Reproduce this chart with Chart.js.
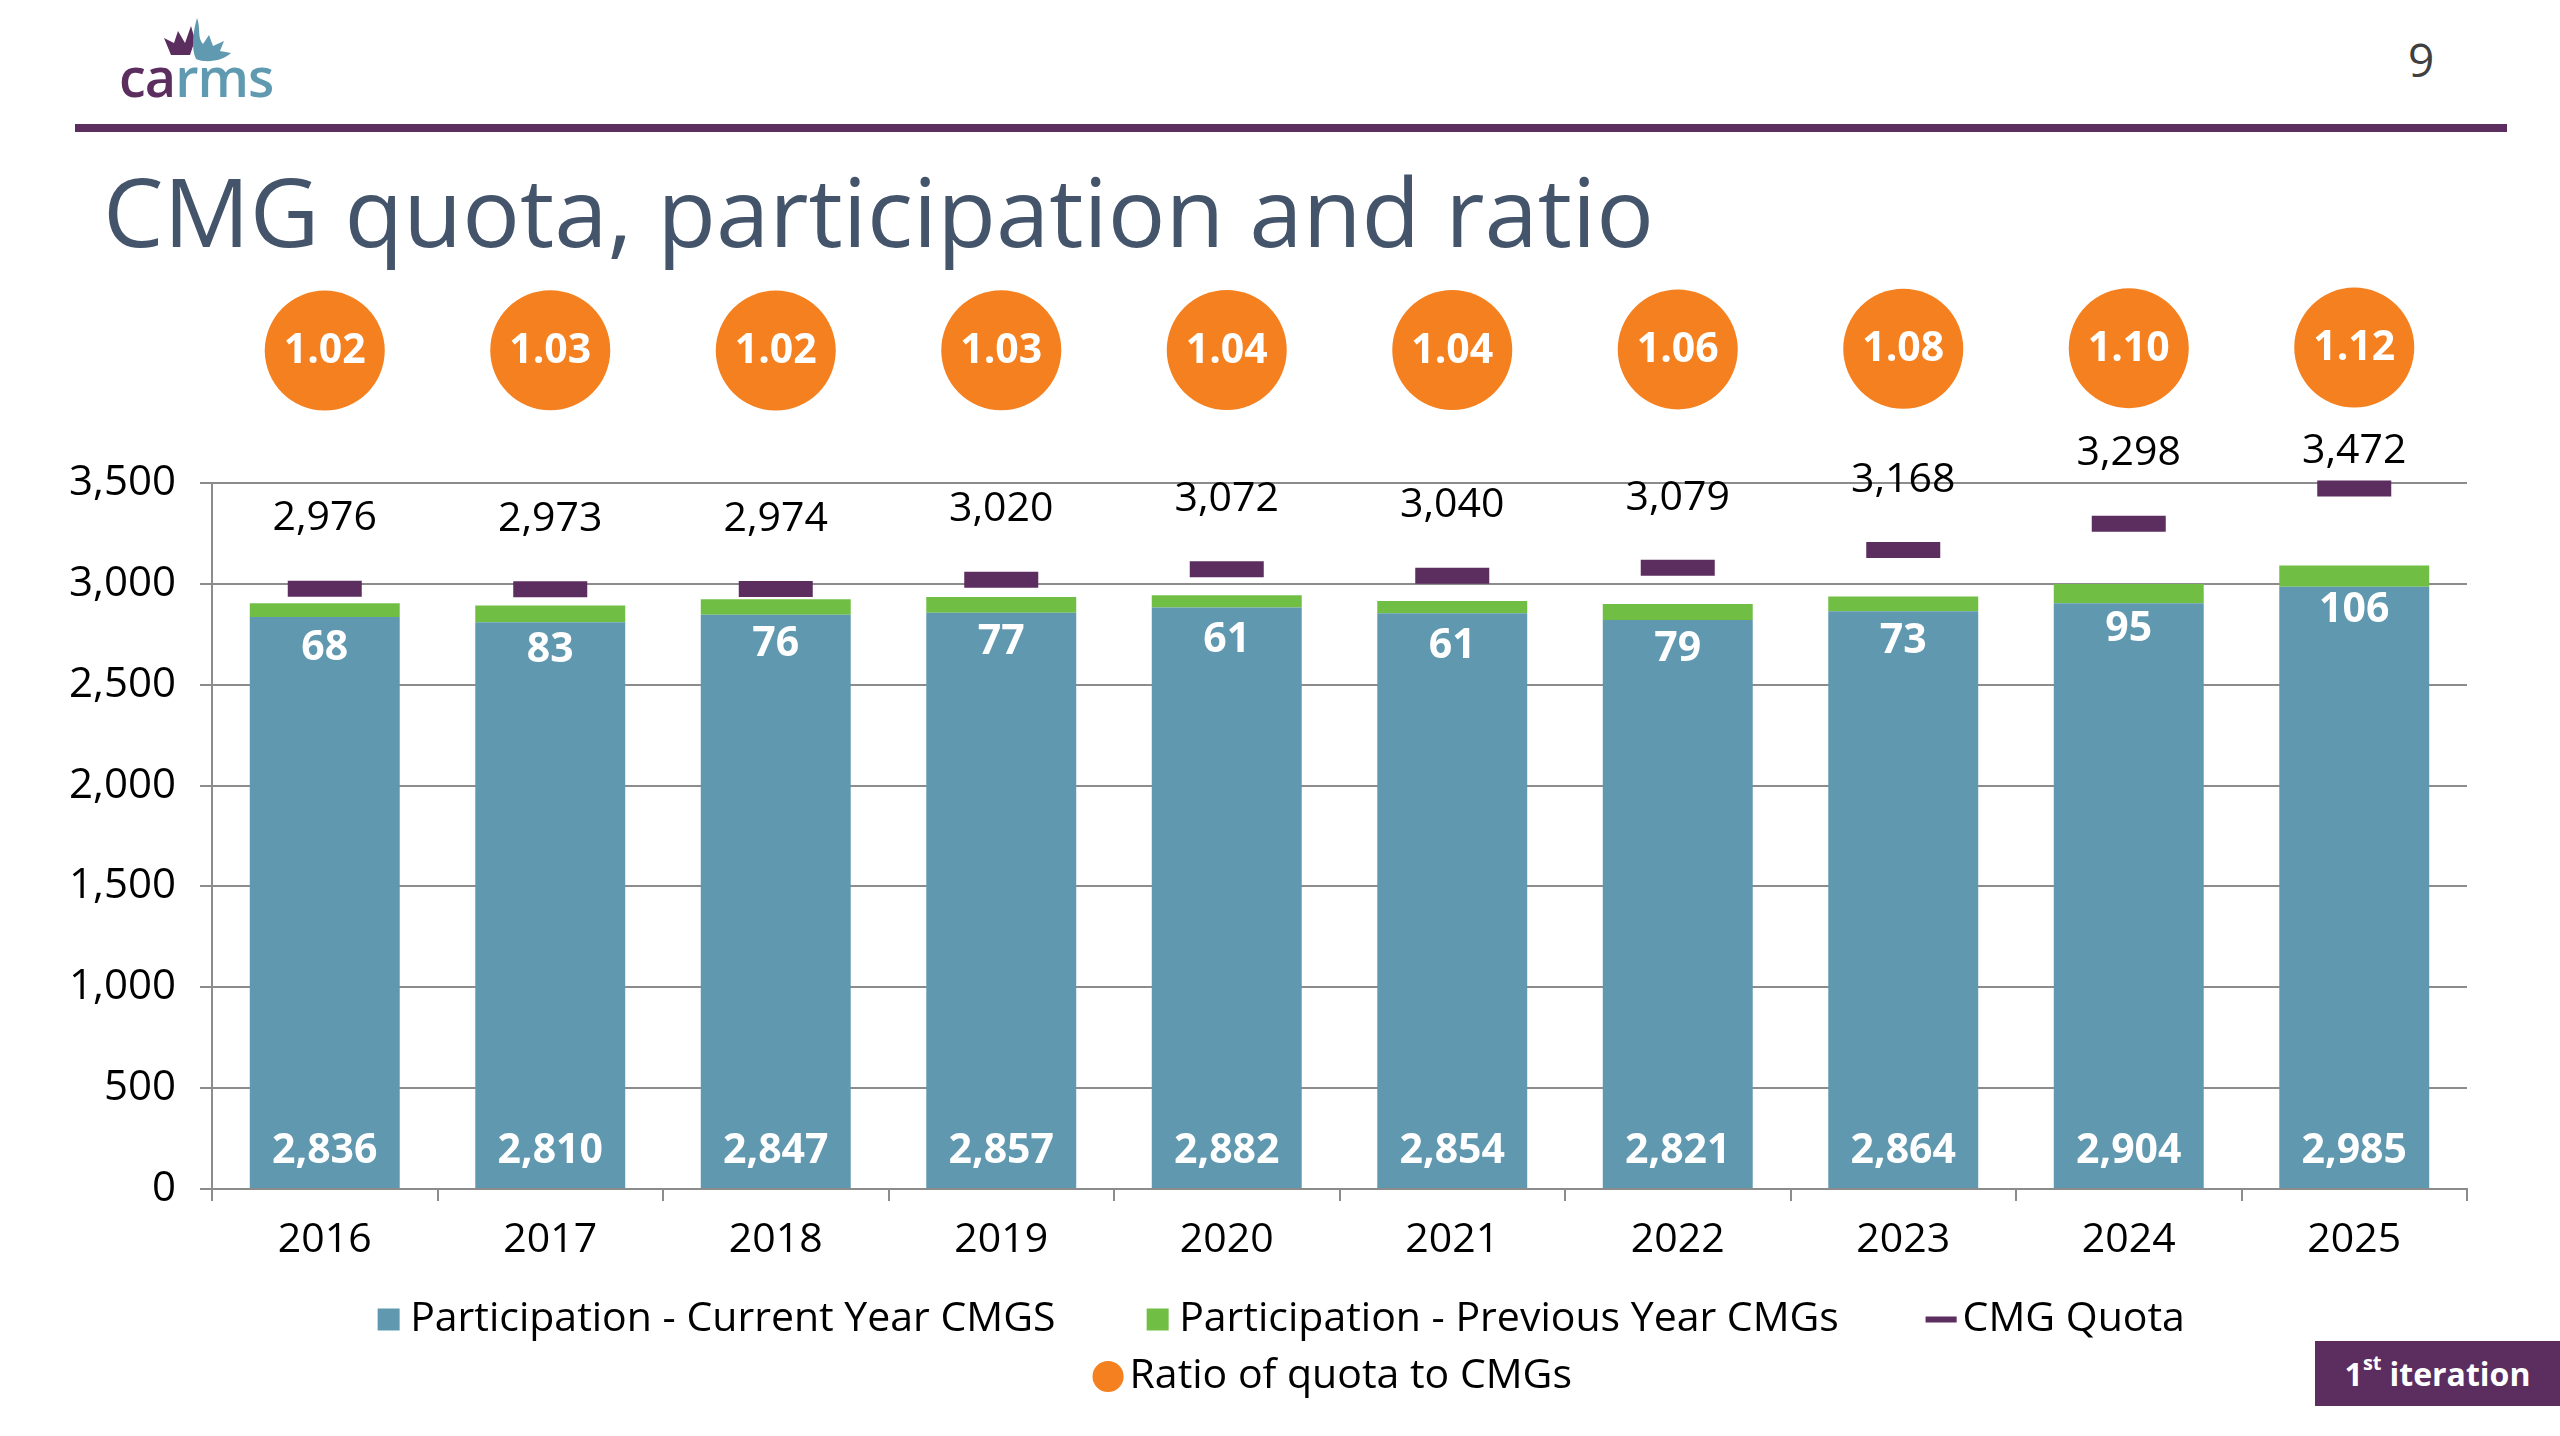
<!DOCTYPE html>
<html>
<head>
<meta charset="utf-8">
<title>CMG quota, participation and ratio</title>
<script src="https://cdn.jsdelivr.net/npm/chart.js@4.4.1/dist/chart.umd.min.js"></script>
<style>
  html, body { margin: 0; padding: 0; background: #ffffff; }
  body { width: 2560px; height: 1436px; position: relative; overflow: hidden; font-family: "Open Sans", sans-serif; }
  #chart { position: absolute; left: 0; top: 0; }
  .logo-svg { position: absolute; left: 0; top: 0; }
  .logo-text { position: absolute; left: 119px; top: 49px; font-size: 54px; line-height: 1; font-weight: 600; letter-spacing: -1px; }
  .logo-text .ca { color: #5c2d5f; }
  .logo-text .rms { color: #5f9ab0; }
  .pagenum { position: absolute; left: 2408px; top: 36px; font-size: 46px; line-height: 1; color: #404040; }
  .hdr-line { position: absolute; left: 75px; top: 124px; width: 2432px; height: 8px; background: #5c2d5f; }
  .title { position: absolute; left: 103px; top: 162px; font-size: 96px; line-height: 1; color: #44546a; white-space: nowrap; }
  .badge { position: absolute; left: 2315px; top: 1341px; width: 245px; height: 65px; background: #5c2d5f; color: #ffffff;
           font-weight: 700; font-size: 32px; display: flex; align-items: center; justify-content: center; }
  .badge sup { font-size: 20px; position: relative; top: -4px; margin-right: 8px; }
</style>
</head>
<body>
<svg class="logo-svg" width="300" height="120" viewBox="0 0 300 120">
  <path d="M164,38 L174,43 L178,31 L185,43 L191,26 L195,40 L190,55 L171,55 Z" fill="#5c2d5f"/>
  <path d="M197,18 C201,28 197,38 203,44 L209,35 L213,46 L224,41 L220,51 L231,53 C224,60 207,64 196,59 C191,48 193,32 197,18 Z" fill="#5f9ab0"/>
</svg>
<div class="logo-text"><span class="ca">ca</span><span class="rms">rms</span></div>
<div class="pagenum">9</div>
<div class="hdr-line"></div>
<div class="title">CMG quota, participation and ratio</div>
<canvas id="chart" width="2560" height="1436"></canvas>
<div class="badge"><span>1<sup>st</sup></span><span>iteration</span></div>

<script>
// ---------------- DATA ----------------
const years = ['2016', '2017', '2018', '2019', '2020', '2021', '2022', '2023', '2024', '2025'];
const currentYearCMGs = [2836, 2810, 2847, 2857, 2882, 2854, 2821, 2864, 2904, 2985];
const previousYearCMGs = [68, 83, 76, 77, 61, 61, 79, 73, 95, 106];
const cmgQuota = [2976, 2973, 2974, 3020, 3072, 3040, 3079, 3168, 3298, 3472];
const quotaRatio = [1.02, 1.03, 1.02, 1.03, 1.04, 1.04, 1.06, 1.08, 1.10, 1.12];
const yTickValues = [0, 500, 1000, 1500, 2000, 2500, 3000, 3500];

const seriesNames = [
  'Participation - Current Year CMGS',
  'Participation - Previous Year CMGs',
  'CMG Quota',
  'Ratio of quota to CMGs'
];

// ---------------- STYLE ----------------
const FONT = '"Open Sans", sans-serif';
const BLUE = '#6098b0';
const GREEN = '#70bf44';
const PURPLE = '#5c2d5f';
const ORANGE = '#f4801f';
const GRID = '#8c8c8c';

Chart.defaults.font.family = FONT;
Chart.defaults.color = '#000000';

const fmt = v => v.toLocaleString('en-US');

const labelPlugin = {
  id: 'valueLabels',
  afterDatasetsDraw(chart) {
    const ctx = chart.ctx;
    const y = chart.scales.y;
    const area = chart.chartArea;
    ctx.save();
    // vertical axis line, only over the tick range
    ctx.strokeStyle = GRID;
    ctx.lineWidth = 2;
    ctx.beginPath();
    ctx.moveTo(area.left, y.getPixelForValue(0));
    ctx.lineTo(area.left, y.getPixelForValue(Math.max(...yTickValues)));
    ctx.stroke();

    ctx.textAlign = 'center';
    ctx.textBaseline = 'middle';
    const mCur = chart.getDatasetMeta(0);
    const mPrev = chart.getDatasetMeta(1);
    const mQuota = chart.getDatasetMeta(2);
    const mRatio = chart.getDatasetMeta(3);

    ctx.fillStyle = '#ffffff';
    ctx.font = '700 41px ' + FONT;
    mCur.data.forEach((bar, i) => ctx.fillText(fmt(currentYearCMGs[i]), bar.x, bar.base - 37));
    mPrev.data.forEach((bar, i) => ctx.fillText(fmt(previousYearCMGs[i]), bar.x, bar.y + 45));
    mRatio.data.forEach((pt, i) => ctx.fillText(quotaRatio[i].toFixed(2), pt.x, pt.y + 1));

    ctx.fillStyle = '#000000';
    ctx.font = '400 41px ' + FONT;
    mQuota.data.forEach((pt, i) => {
      const circle = mRatio.data[i];
      const ly = Math.max(pt.y - 70, circle.y + 104);
      ctx.fillText(fmt(cmgQuota[i]), pt.x, ly);
    });
    ctx.restore();
  }
};

// extra blank space after some legend entries so the legend spreads like the original
const legendGap = '        ';
const legendTail = '          ';

new Chart(document.getElementById('chart'), {
  data: {
    labels: years,
    datasets: [
      {
        type: 'bar', label: seriesNames[0], data: currentYearCMGs, stack: 'part',
        backgroundColor: BLUE, borderWidth: 0, pointStyle: 'rect',
        barPercentage: 0.665, categoryPercentage: 1
      },
      {
        type: 'bar', label: seriesNames[1], data: previousYearCMGs, stack: 'part',
        backgroundColor: GREEN, borderWidth: 0, pointStyle: 'rect',
        barPercentage: 0.665, categoryPercentage: 1
      },
      {
        type: 'line', label: seriesNames[2], data: cmgQuota, stack: 'quota',
        showLine: false, pointStyle: 'line', pointRadius: 37, pointHoverRadius: 37,
        pointBorderWidth: 16, pointBorderColor: PURPLE, pointBackgroundColor: PURPLE,
        borderColor: PURPLE, backgroundColor: PURPLE
      },
      {
        type: 'line', label: seriesNames[3], data: quotaRatio, yAxisID: 'yR', stack: 'ratio',
        showLine: false, pointStyle: 'circle', pointRadius: 60, pointHoverRadius: 60,
        pointBorderWidth: 0, pointBackgroundColor: ORANGE, borderColor: ORANGE,
        backgroundColor: ORANGE, clip: false
      }
    ]
  },
  options: {
    responsive: false,
    animation: false,
    events: [],
    devicePixelRatio: 1,
    layout: { padding: { top: 280, right: 93, bottom: 29, left: 0 } },
    scales: {
      x: {
        stacked: true,
        offset: true,
        grid: { offset: true, drawOnChartArea: false, drawTicks: true, tickLength: 12, color: GRID, lineWidth: 2 },
        border: { display: true, color: GRID, width: 2 },
        ticks: { font: { size: 41 }, color: '#000000', padding: 15 },
        afterFit: s => { s.height = 94; }
      },
      y: {
        stacked: true,
        min: 0,
        max: 4506,
        afterBuildTicks: s => { s.ticks = yTickValues.map(v => ({ value: v })); },
        grid: { color: GRID, lineWidth: 2, tickLength: 12, drawTicks: true },
        border: { display: false },
        ticks: { font: { size: 42 }, color: '#000000', padding: 24, callback: v => fmt(v) },
        afterFit: s => { s.width = 212; }
      },
      yR: {
        display: false,
        min: -26.65,
        max: 3.35
      }
    },
    plugins: {
      tooltip: { enabled: false },
      legend: {
        position: 'bottom',
        fullSize: false,
        align: 'center',
        labels: {
          usePointStyle: true,
          boxWidth: 2,
          boxHeight: 22,
          padding: 16,
          font: { size: 41 },
          color: '#000000',
          sort: (a, b) => a.datasetIndex - b.datasetIndex,
          generateLabels: chart => {
            const items = Chart.defaults.plugins.legend.labels.generateLabels(chart);
            items.forEach(it => {
              if (it.datasetIndex === 2) { it.lineWidth = 6; it.strokeStyle = PURPLE; it.text = it.text + legendTail; }
              if (it.datasetIndex < 2) { it.text = it.text + legendGap; }
            });
            return items;
          }
        }
      }
    }
  },
  plugins: [labelPlugin]
});
</script>
</body>
</html>
